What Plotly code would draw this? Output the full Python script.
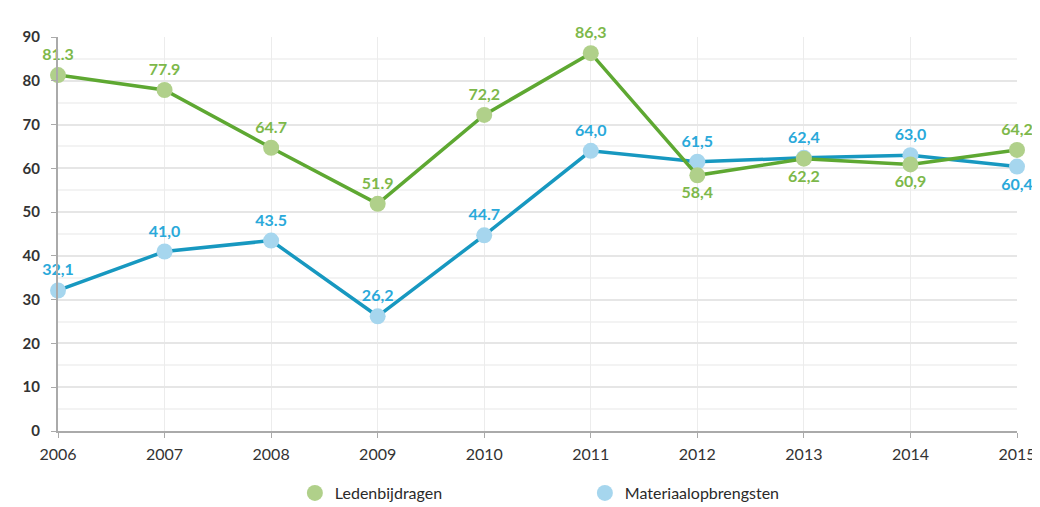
import plotly.graph_objects as go

years = [2006, 2007, 2008, 2009, 2010, 2011, 2012, 2013, 2014, 2015]
leden = [81.3, 77.9, 64.7, 51.9, 72.2, 86.3, 58.4, 62.2, 60.9, 64.2]
materiaal = [32.1, 41.0, 43.5, 26.2, 44.7, 64.0, 61.5, 62.4, 63.0, 60.4]
leden_labels = ["81.3", "77.9", "64.7", "51.9", "72,2", "86,3", "58,4", "62,2", "60,9", "64,2"]
materiaal_labels = ["32,1", "41,0", "43.5", "26,2", "44.7", "64,0", "61,5", "62,4", "63,0", "60,4"]
leden_pos = ["top center"] * 6 + ["bottom center"] * 3 + ["top center"]
materiaal_pos = ["top center"] * 9 + ["bottom center"]

g_line, g_mark, g_text = "#5ea832", "#b0d08a", "#7db84a"
b_line, b_mark, b_text = "#1798c0", "#a6d6ee", "#2aa9da"
font = "Lato"

fig = go.Figure()
fig.add_trace(go.Scatter(
    x=years, y=materiaal, mode="lines+markers+text", text=materiaal_labels,
    textposition=materiaal_pos, cliponaxis=False, showlegend=False,
    line=dict(color=b_line, width=3.5), marker=dict(color=b_mark, size=16),
    textfont=dict(color=b_text, size=16, family=font, weight="bold"),
))
fig.add_trace(go.Scatter(
    x=years, y=leden, mode="lines+markers+text", text=leden_labels,
    textposition=leden_pos, cliponaxis=False, showlegend=False,
    line=dict(color=g_line, width=3.5), marker=dict(color=g_mark, size=16),
    textfont=dict(color=g_text, size=16, family=font, weight="bold"),
))
# legend entries (markers only)
fig.add_trace(go.Scatter(x=[None], y=[None], mode="markers", name="Ledenbijdragen",
                         marker=dict(color=g_mark, size=16)))
fig.add_trace(go.Scatter(x=[None], y=[None], mode="markers", name="Materiaalopbrengsten",
                         marker=dict(color=b_mark, size=16)))

fig.update_layout(
    width=1032, height=499,
    margin=dict(l=50, r=23, t=29, b=76, autoexpand=False),
    paper_bgcolor="white", plot_bgcolor="white",
    font=dict(family=font, color="#333333"),
    legend=dict(orientation="h", x=0.247, xanchor="left", y=0.028, yanchor="middle",
                yref="container", entrywidth=245, font=dict(size=16, color="#2a2a2a")),
)
fig.update_xaxes(
    range=[2006, 2015], tickvals=years, showgrid=True, gridcolor="#ececec",
    showline=True, linecolor="#aaaaaa", linewidth=2, ticks="outside", ticklen=5,
    tickcolor="#aaaaaa", tickfont=dict(size=16, color="#333333"), zeroline=False,
    automargin=False, ticklabelstandoff=3,
)
fig.update_yaxes(
    range=[0, 90], dtick=10, showgrid=True, gridcolor="#e6e6e6", gridwidth=1.5,
    minor=dict(dtick=5, showgrid=True, gridcolor="#f3f3f3"),
    showline=True, linecolor="#aaaaaa", linewidth=2, ticks="outside", ticklen=5,
    tickcolor="#aaaaaa", tickfont=dict(size=15, color="#333333", weight="bold"),
    zeroline=False, automargin=False, ticklabelstandoff=8,
)
fig.write_html("out.html")
